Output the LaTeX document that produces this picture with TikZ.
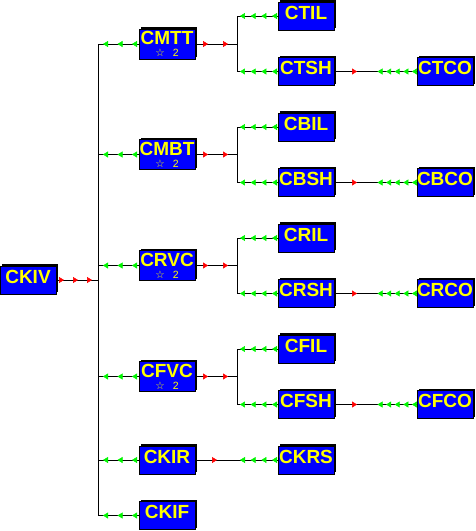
\documentclass[tikz,border=0pt]{standalone}
\usepackage{fontspec}
\setmainfont{Liberation Sans}
\newfontfamily\symfont{DejaVu Sans}
\usetikzlibrary{arrows.meta,decorations.markings,shadows}
\definecolor{boxblue}{RGB}{0,0,255}
\definecolor{txtyellow}{RGB}{255,255,0}
\definecolor{arrred}{RGB}{255,0,0}
\definecolor{arrgreen}{RGB}{0,245,0}
\newcommand\starline{\\[-8pt]{\fontsize{10.5}{10.5}\selectfont\mdseries{\symfont ☆}\hspace{8pt}2}}
\tikzset{
  box/.style={draw=black, line width=1pt, fill=boxblue, text=txtyellow,
    font=\bfseries\fontsize{19}{20}\selectfont,
    minimum width=56pt, minimum height=28pt, inner sep=0pt, outer sep=0pt,
    text height=14pt, text depth=8pt,
    drop shadow={shadow xshift=2pt,shadow yshift=2pt,fill=black,opacity=1}},
  dbox/.style={box, minimum height=30pt, text height=, text depth=, align=center},
  conn/.style={draw=black, line width=1pt},
  rtip/.tip={Triangle[length=5pt,width=6pt,color=arrred,fill=arrred,line width=0.5pt]},
  gtip/.tip={Triangle[length=5pt,width=6pt,color=arrgreen,fill=arrgreen,line width=0.5pt]},
  redmarks/.style n args={3}{postaction={decorate,decoration={markings,
    mark=between positions #1 and #2 step #3 with {\arrow{rtip}}}}},
  redone/.style={postaction={decorate,decoration={markings,
    mark=at position #1 with {\arrow{rtip}}}}},
  greenmarks/.style n args={3}{postaction={decorate,decoration={markings,
    mark=between positions #1 and #2 step #3 with {\arrow{gtip}}}}},
  greenrev/.style n args={3}{postaction={decorate,decoration={markings,
    mark=between positions #1 and #2 step #3 with {\arrowreversed{gtip}}}}},
}
\begin{document}
\begin{tikzpicture}[x=1pt,y=-1pt]
\useasboundingbox (0,0) rectangle (475,531);
% column 1
\node[box] (CKIV) at (28,280) {CKIV};
% column 2
\node[dbox] (CMTT) at (167,44) {CMTT\starline};
\node[dbox] (CMBT) at (167,154.5) {CMBT\starline};
\node[dbox] (CRVC) at (167,265.5) {CRVC\starline};
\node[dbox] (CFVC) at (167,376.5) {CFVC\starline};
\node[box] (CKIR) at (167,460) {CKIR};
\node[box] (CKIF) at (167,515.5) {CKIF};
% column 3
\node[box] (CTIL) at (306,16) {CTIL};
\node[box] (CTSH) at (306,71.5) {CTSH};
\node[box] (CBIL) at (306,127) {CBIL};
\node[box] (CBSH) at (306,182.5) {CBSH};
\node[box] (CRIL) at (306,238) {CRIL};
\node[box] (CRSH) at (306,293.5) {CRSH};
\node[box] (CFIL) at (306,349) {CFIL};
\node[box] (CFSH) at (306,404.5) {CFSH};
\node[box] (CKRS) at (306,460) {CKRS};
% column 4
\node[box] (CTCO) at (445,71.5) {CTCO};
\node[box] (CBCO) at (445,182.5) {CBCO};
\node[box] (CRCO) at (445,293.5) {CRCO};
\node[box] (CFCO) at (445,404.5) {CFCO};
% trunk coordinates
\coordinate (bk) at (98,280);
\coordinate (b1) at (98,44);
\coordinate (b2) at (98,154.5);
\coordinate (b3) at (98,265.5);
\coordinate (b4) at (98,376.5);
\coordinate (b5) at (98,460);
\coordinate (b6) at (98,515.5);
\coordinate (cT) at (237,44);
\coordinate (cB) at (237,154.5);
\coordinate (cR) at (237,265.5);
\coordinate (cF) at (237,376.5);
\coordinate (tT1) at (237,16);    \coordinate (tT2) at (237,71.5);
\coordinate (tB1) at (237,127);   \coordinate (tB2) at (237,182.5);
\coordinate (tR1) at (237,238);   \coordinate (tR2) at (237,293.5);
\coordinate (tF1) at (237,349);   \coordinate (tF2) at (237,404.5);
% main trunk
\draw[conn, redmarks={8pt}{36.5pt}{14pt}] (CKIV) -- (bk);
\draw[conn] (b1) -- (b6);
\foreach \n/\b in {CMTT/b1,CMBT/b2,CRVC/b3,CFVC/b4,CKIR/b5,CKIF/b6}
  \draw[conn, greenmarks={7pt}{36.5pt}{14.5pt}] (\n) -- (\b);
% sub trunks
\foreach \p/\c/\ta/\tb/\il/\sh/\co in {CMTT/cT/tT1/tT2/CTIL/CTSH/CTCO,
    CMBT/cB/tB1/tB2/CBIL/CBSH/CBCO, CRVC/cR/tR1/tR2/CRIL/CRSH/CRCO,
    CFVC/cF/tF1/tF2/CFIL/CFSH/CFCO}{
  \draw[conn, redmarks={13pt}{33.5pt}{20pt}] (\p) -- (\c);
  \draw[conn] (\ta) -- (\tb);
  \draw[conn, greenmarks={6pt}{38.5pt}{10.67pt}] (\il) -- (\ta);
  \draw[conn, greenmarks={6pt}{38.5pt}{10.67pt}] (\sh) -- (\tb);
  \draw[conn, redone=23pt, greenrev={43.5pt}{78.3pt}{8.6pt}] (\sh) -- (\co);
}
\draw[conn, redone=22pt, greenrev={45pt}{77.5pt}{10.67pt}] (CKIR) -- (CKRS);
\end{tikzpicture}
\end{document}
